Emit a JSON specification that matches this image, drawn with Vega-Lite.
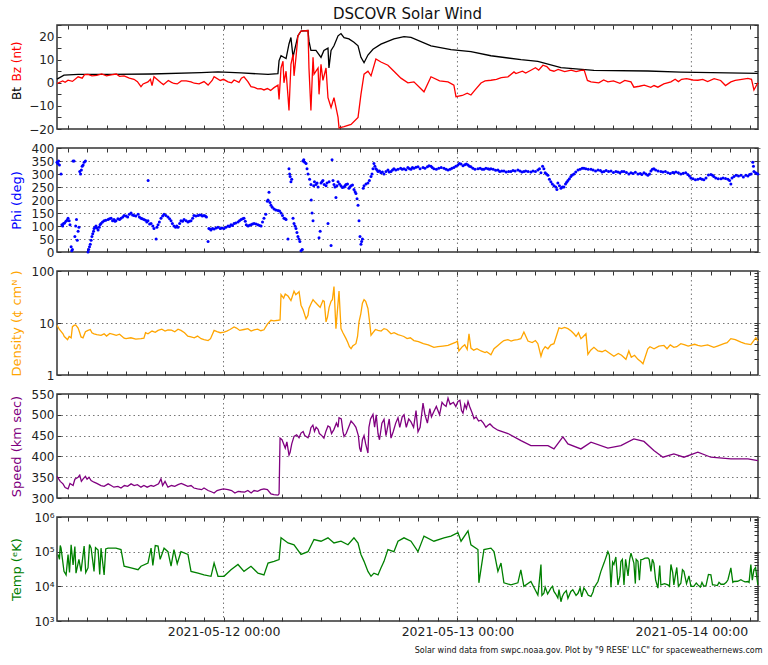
{
  "$schema": "https://vega.github.io/schema/vega-lite/v6.json",
  "padding": {"left": 9, "top": 5, "right": 4, "bottom": 2},
  "spacing": 5,
  "config": {
    "font": "DejaVu Sans",
    "view": {"stroke": "#333333", "strokeWidth": 1.5},
    "axis": {
      "labelFont": "DejaVu Sans", "labelFontSize": 12, "labelColor": "#222222",
      "titleFont": "DejaVu Sans", "titleFontSize": 13, "titleFontWeight": "normal",
      "domain": false, "tickColor": "#333333", "tickSize": 4, "offset": -4, "labelPadding": 3,
      "gridColor": "#666666", "gridDash": [1.5, 3], "gridWidth": 0.9
    },
    "axisY": {"minExtent": 35, "maxExtent": 35, "titlePadding": 3}
  },
  "datasets": {
    "midnight": [{"t":"2021-05-12T00:00"},{"t":"2021-05-13T00:00"},{"t":"2021-05-14T00:00"}],
    "bt": [
      {"t":"2021-05-11T06:55","v":1.6},{"t":"2021-05-11T07:38","v":3.3},{"t":"2021-05-11T09:05","v":3.6},{"t":"2021-05-11T12:28","v":3.6},{"t":"2021-05-11T16:34","v":3.8},{"t":"2021-05-11T21:42","v":4.4},{"t":"2021-05-11T23:26","v":4.7},{"t":"2021-05-12T01:48","v":4.3},{"t":"2021-05-12T04:34","v":3.6},{"t":"2021-05-12T05:35","v":4.0},{"t":"2021-05-12T05:42","v":9.6},{"t":"2021-05-12T05:54","v":11.7},{"t":"2021-05-12T06:25","v":10.5},{"t":"2021-05-12T06:43","v":16.8},{"t":"2021-05-12T06:55","v":19.6},{"t":"2021-05-12T07:08","v":11},{"t":"2021-05-12T07:14","v":13},{"t":"2021-05-12T07:38","v":20.3},{"t":"2021-05-12T07:57","v":22.4},{"t":"2021-05-12T08:40","v":22.6},{"t":"2021-05-12T08:46","v":18},{"t":"2021-05-12T08:58","v":14},{"t":"2021-05-12T09:29","v":14},{"t":"2021-05-12T10:00","v":11},{"t":"2021-05-12T10:18","v":14},{"t":"2021-05-12T10:43","v":15},{"t":"2021-05-12T10:49","v":6.4},{"t":"2021-05-12T11:02","v":14},{"t":"2021-05-12T11:20","v":16},{"t":"2021-05-12T11:45","v":20.3},{"t":"2021-05-12T12:03","v":21.3},{"t":"2021-05-12T12:22","v":19.5},{"t":"2021-05-12T12:52","v":19},{"t":"2021-05-12T13:23","v":17.5},{"t":"2021-05-12T13:48","v":16},{"t":"2021-05-12T14:06","v":11},{"t":"2021-05-12T14:25","v":8.7},{"t":"2021-05-12T14:49","v":12},{"t":"2021-05-12T15:20","v":14.5},{"t":"2021-05-12T16:09","v":16.7},{"t":"2021-05-12T17:29","v":19},{"t":"2021-05-12T18:31","v":20},{"t":"2021-05-12T19:14","v":19.6},{"t":"2021-05-12T21:17","v":16},{"t":"2021-05-12T23:20","v":14.3},{"t":"2021-05-13T01:23","v":13.5},{"t":"2021-05-13T03:26","v":11.7},{"t":"2021-05-13T06:31","v":10},{"t":"2021-05-13T08:15","v":9.3},{"t":"2021-05-13T10:37","v":6.6},{"t":"2021-05-13T14:00","v":5.4},{"t":"2021-05-13T19:32","v":5.1},{"t":"2021-05-13T22:55","v":4.6},{"t":"2021-05-14T06:49","v":4.1}
    ],
    "bz": [
      {"t":"2021-05-11T06:55","v":-0.3},{"t":"2021-05-11T07:30","v":0.8},{"t":"2021-05-11T07:45","v":0.2},{"t":"2021-05-11T08:03","v":1.1},{"t":"2021-05-11T08:30","v":0.6},{"t":"2021-05-11T09:05","v":2.6},{"t":"2021-05-11T09:30","v":2.0},{"t":"2021-05-11T09:45","v":3.5},{"t":"2021-05-11T10:06","v":3.6},{"t":"2021-05-11T10:30","v":3.0},{"t":"2021-05-11T11:00","v":3.2},{"t":"2021-05-11T11:30","v":3.8},{"t":"2021-05-11T12:00","v":3.0},{"t":"2021-05-11T12:28","v":3.4},{"t":"2021-05-11T13:00","v":3.8},{"t":"2021-05-11T13:20","v":2.8},{"t":"2021-05-11T13:48","v":3},{"t":"2021-05-11T14:20","v":2.0},{"t":"2021-05-11T14:49","v":1.5},{"t":"2021-05-11T15:10","v":0.5},{"t":"2021-05-11T15:32","v":-1.7},{"t":"2021-05-11T15:45","v":-0.5},{"t":"2021-05-11T16:15","v":0.4},{"t":"2021-05-11T16:30","v":1.5},{"t":"2021-05-11T16:40","v":-1.2},{"t":"2021-05-11T16:52","v":2.6},{"t":"2021-05-11T17:10","v":1.5},{"t":"2021-05-11T17:35","v":0},{"t":"2021-05-11T17:50","v":-0.8},{"t":"2021-05-11T18:20","v":1.0},{"t":"2021-05-11T18:40","v":0.2},{"t":"2021-05-11T18:55","v":-0.3},{"t":"2021-05-11T19:15","v":-0.5},{"t":"2021-05-11T19:40","v":0.8},{"t":"2021-05-11T20:10","v":0.8},{"t":"2021-05-11T20:40","v":0.4},{"t":"2021-05-11T21:00","v":-0.2},{"t":"2021-05-11T21:30","v":-0.5},{"t":"2021-05-11T22:00","v":0.5},{"t":"2021-05-11T22:25","v":-1},{"t":"2021-05-11T22:50","v":1.0},{"t":"2021-05-11T23:02","v":2.6},{"t":"2021-05-11T23:40","v":1.0},{"t":"2021-05-12T00:00","v":1.5},{"t":"2021-05-12T00:28","v":0.4},{"t":"2021-05-12T00:50","v":0.0},{"t":"2021-05-12T01:05","v":1.2},{"t":"2021-05-12T01:35","v":0.2},{"t":"2021-05-12T01:50","v":2.0},{"t":"2021-05-12T02:06","v":2.6},{"t":"2021-05-12T02:30","v":0.5},{"t":"2021-05-12T02:49","v":-1.7},{"t":"2021-05-12T03:10","v":-2.0},{"t":"2021-05-12T03:30","v":-2.6},{"t":"2021-05-12T03:50","v":-2.5},{"t":"2021-05-12T04:09","v":-3.1},{"t":"2021-05-12T04:30","v":-2.5},{"t":"2021-05-12T04:50","v":-3.3},{"t":"2021-05-12T05:11","v":-2.1},{"t":"2021-05-12T05:35","v":-1},{"t":"2021-05-12T05:42","v":-7.2},{"t":"2021-05-12T05:54","v":6.4},{"t":"2021-05-12T06:06","v":9.3},{"t":"2021-05-12T06:12","v":0},{"t":"2021-05-12T06:25","v":5},{"t":"2021-05-12T06:37","v":-6},{"t":"2021-05-12T06:43","v":-12},{"t":"2021-05-12T06:55","v":8},{"t":"2021-05-12T07:08","v":12.3},{"t":"2021-05-12T07:14","v":3},{"t":"2021-05-12T07:26","v":11},{"t":"2021-05-12T07:38","v":20.3},{"t":"2021-05-12T07:57","v":22.4},{"t":"2021-05-12T08:40","v":22.6},{"t":"2021-05-12T08:46","v":6.4},{"t":"2021-05-12T08:58","v":-12},{"t":"2021-05-12T09:11","v":11},{"t":"2021-05-12T09:17","v":3.7},{"t":"2021-05-12T09:42","v":6.4},{"t":"2021-05-12T09:48","v":-5},{"t":"2021-05-12T10:00","v":8},{"t":"2021-05-12T10:12","v":1},{"t":"2021-05-12T10:31","v":6.4},{"t":"2021-05-12T10:43","v":-6.4},{"t":"2021-05-12T11:02","v":-10.7},{"t":"2021-05-12T11:20","v":-6.4},{"t":"2021-05-12T11:45","v":-15},{"t":"2021-05-12T11:51","v":-19.5},{"t":"2021-05-12T12:22","v":-19},{"t":"2021-05-12T13:05","v":-18},{"t":"2021-05-12T13:48","v":-15},{"t":"2021-05-12T14:06","v":-5},{"t":"2021-05-12T14:25","v":3.7},{"t":"2021-05-12T14:49","v":5},{"t":"2021-05-12T15:08","v":3},{"t":"2021-05-12T15:38","v":10.3},{"t":"2021-05-12T16:09","v":9},{"t":"2021-05-12T16:52","v":7.6},{"t":"2021-05-12T17:29","v":5},{"t":"2021-05-12T18:12","v":2},{"t":"2021-05-12T18:55","v":0},{"t":"2021-05-12T19:32","v":0.4},{"t":"2021-05-12T20:34","v":-3.9},{"t":"2021-05-12T21:17","v":2.6},{"t":"2021-05-12T22:10","v":0.8},{"t":"2021-05-12T23:02","v":0.4},{"t":"2021-05-12T23:38","v":-1},{"t":"2021-05-12T23:51","v":-6},{"t":"2021-05-13T00:30","v":-5.5},{"t":"2021-05-13T01:00","v":-4.5},{"t":"2021-05-13T01:23","v":-5.3},{"t":"2021-05-13T01:50","v":-3.0},{"t":"2021-05-13T02:25","v":-0.1},{"t":"2021-05-13T02:50","v":0.8},{"t":"2021-05-13T03:26","v":1.1},{"t":"2021-05-13T04:00","v":1.5},{"t":"2021-05-13T04:30","v":2.2},{"t":"2021-05-13T05:11","v":2.6},{"t":"2021-05-13T05:48","v":4.7},{"t":"2021-05-13T06:00","v":4.0},{"t":"2021-05-13T06:40","v":5.0},{"t":"2021-05-13T07:00","v":4.2},{"t":"2021-05-13T07:32","v":5.4},{"t":"2021-05-13T08:00","v":6.5},{"t":"2021-05-13T08:20","v":5.5},{"t":"2021-05-13T08:46","v":7.6},{"t":"2021-05-13T09:10","v":7.0},{"t":"2021-05-13T09:30","v":5.5},{"t":"2021-05-13T09:54","v":5},{"t":"2021-05-13T10:20","v":5.8},{"t":"2021-05-13T11:00","v":4.8},{"t":"2021-05-13T11:40","v":5.5},{"t":"2021-05-13T12:10","v":4.8},{"t":"2021-05-13T12:40","v":5.4},{"t":"2021-05-13T13:00","v":5.5},{"t":"2021-05-13T13:20","v":1.0},{"t":"2021-05-13T13:42","v":0.4},{"t":"2021-05-13T14:30","v":0.0},{"t":"2021-05-13T15:00","v":1.2},{"t":"2021-05-13T15:26","v":0.4},{"t":"2021-05-13T16:00","v":0.8},{"t":"2021-05-13T16:40","v":-0.2},{"t":"2021-05-13T17:10","v":1.0},{"t":"2021-05-13T17:48","v":0.4},{"t":"2021-05-13T18:06","v":-1.9},{"t":"2021-05-13T18:40","v":-1.5},{"t":"2021-05-13T19:10","v":-1.0},{"t":"2021-05-13T19:50","v":-2.0},{"t":"2021-05-13T20:10","v":-1.2},{"t":"2021-05-13T20:34","v":-1.9},{"t":"2021-05-13T21:10","v":-0.5},{"t":"2021-05-13T21:54","v":0.4},{"t":"2021-05-13T22:20","v":1.5},{"t":"2021-05-13T22:40","v":0.5},{"t":"2021-05-13T23:00","v":1.5},{"t":"2021-05-13T23:30","v":1.8},{"t":"2021-05-14T00:10","v":1.2},{"t":"2021-05-14T00:40","v":1.1},{"t":"2021-05-14T01:10","v":1.5},{"t":"2021-05-14T01:40","v":0.5},{"t":"2021-05-14T02:20","v":1.8},{"t":"2021-05-14T03:00","v":1.0},{"t":"2021-05-14T03:30","v":-1.2},{"t":"2021-05-14T04:03","v":0.4},{"t":"2021-05-14T04:30","v":1.0},{"t":"2021-05-14T05:10","v":1.5},{"t":"2021-05-14T05:48","v":1.9},{"t":"2021-05-14T06:10","v":1.5},{"t":"2021-05-14T06:25","v":-3.1},{"t":"2021-05-14T06:49","v":0}
    ],
    "phi": [
      {"t":"2021-05-11T06:55","v":345},{"t":"2021-05-11T07:00","v":340},{"t":"2021-05-11T07:05","v":350},{"t":"2021-05-11T07:10","v":335},{"t":"2021-05-11T07:20","v":300},{"t":"2021-05-11T07:25","v":105},{"t":"2021-05-11T07:30","v":100},{"t":"2021-05-11T07:35","v":110},{"t":"2021-05-11T07:42","v":112},{"t":"2021-05-11T07:50","v":118},{"t":"2021-05-11T07:57","v":122},{"t":"2021-05-11T08:03","v":130},{"t":"2021-05-11T08:10","v":120},{"t":"2021-05-11T08:15","v":105},{"t":"2021-05-11T08:22","v":20},{"t":"2021-05-11T08:26","v":5},{"t":"2021-05-11T08:30","v":10},{"t":"2021-05-11T08:34","v":350},{"t":"2021-05-11T08:40","v":350},{"t":"2021-05-11T08:45","v":60},{"t":"2021-05-11T08:50","v":100},{"t":"2021-05-11T08:55","v":125},{"t":"2021-05-11T09:00","v":45},{"t":"2021-05-11T09:05","v":80},{"t":"2021-05-11T09:10","v":95},{"t":"2021-05-11T09:15","v":310},{"t":"2021-05-11T09:20","v":300},{"t":"2021-05-11T09:25","v":315},{"t":"2021-05-11T09:30","v":330},{"t":"2021-05-11T09:36","v":335},{"t":"2021-05-11T09:42","v":345},{"t":"2021-05-11T09:50","v":350},{"t":"2021-05-11T10:06","v":0},{"t":"2021-05-11T10:10","v":10},{"t":"2021-05-11T10:15","v":20},{"t":"2021-05-11T10:20","v":30},{"t":"2021-05-11T10:25","v":45},{"t":"2021-05-11T10:30","v":60},{"t":"2021-05-11T10:35","v":70},{"t":"2021-05-11T10:40","v":80},{"t":"2021-05-11T10:43","v":90},{"t":"2021-05-11T10:50","v":95},{"t":"2021-05-11T10:55","v":100},{"t":"2021-05-11T11:00","v":92},{"t":"2021-05-11T11:08","v":85},{"t":"2021-05-11T11:15","v":95},{"t":"2021-05-11T11:20","v":105},{"t":"2021-05-11T11:26","v":110},{"t":"2021-05-11T11:35","v":115},{"t":"2021-05-11T11:45","v":120},{"t":"2021-05-11T11:55","v":122},{"t":"2021-05-11T12:09","v":125},{"t":"2021-05-11T12:18","v":128},{"t":"2021-05-11T12:28","v":130},{"t":"2021-05-11T12:37","v":120},{"t":"2021-05-11T12:46","v":125},{"t":"2021-05-11T12:52","v":118},{"t":"2021-05-11T12:58","v":120},{"t":"2021-05-11T13:10","v":128},{"t":"2021-05-11T13:20","v":125},{"t":"2021-05-11T13:29","v":130},{"t":"2021-05-11T13:40","v":135},{"t":"2021-05-11T13:48","v":140},{"t":"2021-05-11T14:00","v":138},{"t":"2021-05-11T14:10","v":135},{"t":"2021-05-11T14:20","v":145},{"t":"2021-05-11T14:31","v":150},{"t":"2021-05-11T14:40","v":142},{"t":"2021-05-11T14:49","v":140},{"t":"2021-05-11T15:00","v":138},{"t":"2021-05-11T15:14","v":145},{"t":"2021-05-11T15:22","v":135},{"t":"2021-05-11T15:32","v":130},{"t":"2021-05-11T15:40","v":128},{"t":"2021-05-11T15:50","v":125},{"t":"2021-05-11T16:00","v":122},{"t":"2021-05-11T16:08","v":115},{"t":"2021-05-11T16:15","v":120},{"t":"2021-05-11T16:16","v":275},{"t":"2021-05-11T16:25","v":108},{"t":"2021-05-11T16:34","v":110},{"t":"2021-05-11T16:45","v":100},{"t":"2021-05-11T16:52","v":90},{"t":"2021-05-11T17:05","v":50},{"t":"2021-05-11T17:10","v":95},{"t":"2021-05-11T17:17","v":105},{"t":"2021-05-11T17:25","v":115},{"t":"2021-05-11T17:35","v":130},{"t":"2021-05-11T17:45","v":138},{"t":"2021-05-11T17:54","v":145},{"t":"2021-05-11T18:05","v":140},{"t":"2021-05-11T18:18","v":135},{"t":"2021-05-11T18:28","v":128},{"t":"2021-05-11T18:37","v":120},{"t":"2021-05-11T18:45","v":110},{"t":"2021-05-11T18:55","v":100},{"t":"2021-05-11T19:05","v":95},{"t":"2021-05-11T19:12","v":100},{"t":"2021-05-11T19:20","v":95},{"t":"2021-05-11T19:30","v":110},{"t":"2021-05-11T19:38","v":120},{"t":"2021-05-11T19:48","v":118},{"t":"2021-05-11T19:57","v":125},{"t":"2021-05-11T20:10","v":120},{"t":"2021-05-11T20:21","v":115},{"t":"2021-05-11T20:30","v":118},{"t":"2021-05-11T20:40","v":120},{"t":"2021-05-11T20:50","v":130},{"t":"2021-05-11T20:58","v":140},{"t":"2021-05-11T21:10","v":138},{"t":"2021-05-11T21:23","v":140},{"t":"2021-05-11T21:32","v":142},{"t":"2021-05-11T21:42","v":142},{"t":"2021-05-11T21:50","v":138},{"t":"2021-05-11T22:00","v":140},{"t":"2021-05-11T22:08","v":138},{"t":"2021-05-11T22:15","v":135},{"t":"2021-05-11T22:25","v":40},{"t":"2021-05-11T22:30","v":90},{"t":"2021-05-11T22:37","v":88},{"t":"2021-05-11T22:43","v":85},{"t":"2021-05-11T22:52","v":90},{"t":"2021-05-11T23:02","v":88},{"t":"2021-05-11T23:15","v":92},{"t":"2021-05-11T23:26","v":95},{"t":"2021-05-11T23:40","v":90},{"t":"2021-05-11T23:50","v":92},
      {"t":"2021-05-12T00:03","v":90},{"t":"2021-05-12T00:15","v":95},{"t":"2021-05-12T00:28","v":100},{"t":"2021-05-12T00:37","v":98},{"t":"2021-05-12T00:46","v":105},{"t":"2021-05-12T00:55","v":102},{"t":"2021-05-12T01:05","v":110},{"t":"2021-05-12T01:15","v":112},{"t":"2021-05-12T01:29","v":115},{"t":"2021-05-12T01:38","v":120},{"t":"2021-05-12T01:48","v":125},{"t":"2021-05-12T01:58","v":128},{"t":"2021-05-12T02:06","v":130},{"t":"2021-05-12T02:14","v":118},{"t":"2021-05-12T02:20","v":105},{"t":"2021-05-12T02:31","v":100},{"t":"2021-05-12T02:40","v":103},{"t":"2021-05-12T02:49","v":105},{"t":"2021-05-12T02:58","v":108},{"t":"2021-05-12T03:08","v":110},{"t":"2021-05-12T03:20","v":108},{"t":"2021-05-12T03:32","v":105},{"t":"2021-05-12T03:42","v":102},{"t":"2021-05-12T03:51","v":100},{"t":"2021-05-12T04:00","v":115},{"t":"2021-05-12T04:09","v":130},{"t":"2021-05-12T04:20","v":145},{"t":"2021-05-12T04:30","v":195},{"t":"2021-05-12T04:34","v":200},{"t":"2021-05-12T04:40","v":230},{"t":"2021-05-12T04:46","v":190},{"t":"2021-05-12T04:52","v":180},{"t":"2021-05-12T05:00","v":172},{"t":"2021-05-12T05:11","v":165},{"t":"2021-05-12T05:22","v":162},{"t":"2021-05-12T05:35","v":160},{"t":"2021-05-12T05:45","v":158},{"t":"2021-05-12T05:54","v":150},{"t":"2021-05-12T06:03","v":140},{"t":"2021-05-12T06:12","v":130},{"t":"2021-05-12T06:20","v":128},{"t":"2021-05-12T06:25","v":125},{"t":"2021-05-12T06:37","v":50},{"t":"2021-05-12T06:43","v":320},{"t":"2021-05-12T06:47","v":300},{"t":"2021-05-12T06:50","v":290},{"t":"2021-05-12T06:55","v":270},{"t":"2021-05-12T07:00","v":280},{"t":"2021-05-12T07:08","v":130},{"t":"2021-05-12T07:14","v":110},{"t":"2021-05-12T07:20","v":100},{"t":"2021-05-12T07:26","v":90},{"t":"2021-05-12T07:32","v":75},{"t":"2021-05-12T07:38","v":60},{"t":"2021-05-12T07:44","v":50},{"t":"2021-05-12T07:50","v":40},{"t":"2021-05-12T07:57","v":5},{"t":"2021-05-12T08:05","v":10},{"t":"2021-05-12T08:09","v":350},{"t":"2021-05-12T08:14","v":355},{"t":"2021-05-12T08:20","v":345},{"t":"2021-05-12T08:28","v":340},{"t":"2021-05-12T08:34","v":320},{"t":"2021-05-12T08:40","v":300},{"t":"2021-05-12T08:50","v":280},{"t":"2021-05-12T08:58","v":260},{"t":"2021-05-12T09:00","v":200},{"t":"2021-05-12T09:05","v":150},{"t":"2021-05-12T09:11","v":120},{"t":"2021-05-12T09:15","v":255},{"t":"2021-05-12T09:20","v":270},{"t":"2021-05-12T09:29","v":260},{"t":"2021-05-12T09:36","v":265},{"t":"2021-05-12T09:42","v":250},{"t":"2021-05-12T09:48","v":55},{"t":"2021-05-12T09:55","v":80},{"t":"2021-05-12T10:00","v":265},{"t":"2021-05-12T10:06","v":270},{"t":"2021-05-12T10:12","v":275},{"t":"2021-05-12T10:20","v":260},{"t":"2021-05-12T10:31","v":255},{"t":"2021-05-12T10:37","v":265},{"t":"2021-05-12T10:43","v":110},{"t":"2021-05-12T10:50","v":270},{"t":"2021-05-12T11:02","v":25},{"t":"2021-05-12T11:08","v":355},{"t":"2021-05-12T11:14","v":275},{"t":"2021-05-12T11:20","v":260},{"t":"2021-05-12T11:26","v":250},{"t":"2021-05-12T11:32","v":210},{"t":"2021-05-12T11:38","v":255},{"t":"2021-05-12T11:45","v":270},{"t":"2021-05-12T11:54","v":262},{"t":"2021-05-12T12:03","v":255},{"t":"2021-05-12T12:12","v":248},{"t":"2021-05-12T12:22","v":250},{"t":"2021-05-12T12:28","v":255},{"t":"2021-05-12T12:34","v":260},{"t":"2021-05-12T12:43","v":262},{"t":"2021-05-12T12:52","v":245},{"t":"2021-05-12T12:58","v":250},{"t":"2021-05-12T13:05","v":255},{"t":"2021-05-12T13:14","v":258},{"t":"2021-05-12T13:23","v":240},{"t":"2021-05-12T13:30","v":232},{"t":"2021-05-12T13:35","v":225},{"t":"2021-05-12T13:42","v":205},{"t":"2021-05-12T13:48","v":180},{"t":"2021-05-12T13:54","v":120},{"t":"2021-05-12T14:00","v":60},{"t":"2021-05-12T14:06","v":30},{"t":"2021-05-12T14:10","v":40},{"t":"2021-05-12T14:15","v":50},{"t":"2021-05-12T14:20","v":245},{"t":"2021-05-12T14:25","v":255},{"t":"2021-05-12T14:37","v":262},{"t":"2021-05-12T14:49","v":265},{"t":"2021-05-12T14:58","v":275},{"t":"2021-05-12T15:08","v":290},{"t":"2021-05-12T15:14","v":300},{"t":"2021-05-12T15:20","v":320},{"t":"2021-05-12T15:26","v":340},{"t":"2021-05-12T15:32","v":330},{"t":"2021-05-12T15:38","v":320},{"t":"2021-05-12T15:45","v":315},{"t":"2021-05-12T15:51","v":310},{"t":"2021-05-12T16:00","v":312},{"t":"2021-05-12T16:09","v":305},{"t":"2021-05-12T16:18","v":308},{"t":"2021-05-12T16:28","v":300},{"t":"2021-05-12T16:40","v":310},{"t":"2021-05-12T16:52","v":315},{"t":"2021-05-12T17:00","v":308},{"t":"2021-05-12T17:11","v":310},{"t":"2021-05-12T17:20","v":315},{"t":"2021-05-12T17:29","v":320},{"t":"2021-05-12T17:40","v":315},{"t":"2021-05-12T17:54","v":318},{"t":"2021-05-12T18:10","v":322},{"t":"2021-05-12T18:20","v":318},{"t":"2021-05-12T18:31","v":320},{"t":"2021-05-12T18:43","v":316},{"t":"2021-05-12T18:55","v":325},{"t":"2021-05-12T19:05","v":320},{"t":"2021-05-12T19:14","v":318},{"t":"2021-05-12T19:23","v":325},{"t":"2021-05-12T19:32","v":322},{"t":"2021-05-12T19:45","v":326},{"t":"2021-05-12T19:57","v":328},{"t":"2021-05-12T20:10","v":320},{"t":"2021-05-12T20:28","v":325},{"t":"2021-05-12T20:40","v":322},{"t":"2021-05-12T20:55","v":328},{"t":"2021-05-12T21:05","v":332},{"t":"2021-05-12T21:17","v":330},{"t":"2021-05-12T21:25","v":325},{"t":"2021-05-12T21:35","v":320},{"t":"2021-05-12T21:50","v":318},{"t":"2021-05-12T22:05","v":322},{"t":"2021-05-12T22:20","v":325},{"t":"2021-05-12T22:37","v":322},{"t":"2021-05-12T22:50","v":318},{"t":"2021-05-12T23:02","v":315},{"t":"2021-05-12T23:15","v":318},{"t":"2021-05-12T23:26","v":322},{"t":"2021-05-12T23:38","v":325},{"t":"2021-05-12T23:50","v":330},
      {"t":"2021-05-13T00:03","v":335},{"t":"2021-05-13T00:12","v":340},{"t":"2021-05-13T00:22","v":338},{"t":"2021-05-13T00:34","v":332},{"t":"2021-05-13T00:45","v":336},{"t":"2021-05-13T00:55","v":338},{"t":"2021-05-13T01:05","v":335},{"t":"2021-05-13T01:14","v":330},{"t":"2021-05-13T01:23","v":328},{"t":"2021-05-13T01:35","v":322},{"t":"2021-05-13T01:48","v":318},{"t":"2021-05-13T02:06","v":320},{"t":"2021-05-13T02:20","v":322},{"t":"2021-05-13T02:32","v":318},{"t":"2021-05-13T02:43","v":318},{"t":"2021-05-13T02:55","v":322},{"t":"2021-05-13T03:08","v":320},{"t":"2021-05-13T03:17","v":318},{"t":"2021-05-13T03:26","v":320},{"t":"2021-05-13T03:40","v":318},{"t":"2021-05-13T03:55","v":314},{"t":"2021-05-13T04:09","v":315},{"t":"2021-05-13T04:20","v":310},{"t":"2021-05-13T04:33","v":312},{"t":"2021-05-13T04:46","v":312},{"t":"2021-05-13T05:00","v":308},{"t":"2021-05-13T05:15","v":310},{"t":"2021-05-13T05:29","v":310},{"t":"2021-05-13T05:42","v":313},{"t":"2021-05-13T05:55","v":312},{"t":"2021-05-13T06:12","v":315},{"t":"2021-05-13T06:25","v":312},{"t":"2021-05-13T06:37","v":308},{"t":"2021-05-13T06:49","v":310},{"t":"2021-05-13T07:00","v":312},{"t":"2021-05-13T07:15","v":310},{"t":"2021-05-13T07:32","v":308},{"t":"2021-05-13T07:45","v":312},{"t":"2021-05-13T08:00","v":310},{"t":"2021-05-13T08:15","v":315},{"t":"2021-05-13T08:25","v":320},{"t":"2021-05-13T08:34","v":305},{"t":"2021-05-13T08:44","v":330},{"t":"2021-05-13T08:52","v":320},{"t":"2021-05-13T09:00","v":305},{"t":"2021-05-13T09:08","v":300},{"t":"2021-05-13T09:17","v":295},{"t":"2021-05-13T09:26","v":280},{"t":"2021-05-13T09:35","v":270},{"t":"2021-05-13T09:44","v":262},{"t":"2021-05-13T09:54","v":255},{"t":"2021-05-13T10:05","v":250},{"t":"2021-05-13T10:12","v":240},{"t":"2021-05-13T10:18","v":265},{"t":"2021-05-13T10:28","v":255},{"t":"2021-05-13T10:37","v":245},{"t":"2021-05-13T10:46","v":250},{"t":"2021-05-13T10:55","v":250},{"t":"2021-05-13T11:05","v":262},{"t":"2021-05-13T11:12","v":268},{"t":"2021-05-13T11:20","v":275},{"t":"2021-05-13T11:29","v":282},{"t":"2021-05-13T11:38","v":290},{"t":"2021-05-13T11:47","v":296},{"t":"2021-05-13T11:57","v":300},{"t":"2021-05-13T12:08","v":308},{"t":"2021-05-13T12:22","v":315},{"t":"2021-05-13T12:35","v":318},{"t":"2021-05-13T12:48","v":322},{"t":"2021-05-13T12:58","v":322},{"t":"2021-05-13T13:10","v":320},{"t":"2021-05-13T13:25","v":318},{"t":"2021-05-13T13:42","v":318},{"t":"2021-05-13T13:55","v":315},{"t":"2021-05-13T14:10","v":312},{"t":"2021-05-13T14:25","v":315},{"t":"2021-05-13T14:40","v":313},{"t":"2021-05-13T14:50","v":308},{"t":"2021-05-13T15:02","v":310},{"t":"2021-05-13T15:15","v":313},{"t":"2021-05-13T15:30","v":310},{"t":"2021-05-13T15:45","v":312},{"t":"2021-05-13T16:00","v":306},{"t":"2021-05-13T16:15","v":310},{"t":"2021-05-13T16:28","v":308},{"t":"2021-05-13T16:40","v":305},{"t":"2021-05-13T16:52","v":310},{"t":"2021-05-13T17:05","v":310},{"t":"2021-05-13T17:20","v":306},{"t":"2021-05-13T17:35","v":300},{"t":"2021-05-13T17:48","v":305},{"t":"2021-05-13T18:00","v":302},{"t":"2021-05-13T18:15","v":307},{"t":"2021-05-13T18:31","v":300},{"t":"2021-05-13T18:45","v":302},{"t":"2021-05-13T18:55","v":298},{"t":"2021-05-13T19:08","v":305},{"t":"2021-05-13T19:20","v":300},{"t":"2021-05-13T19:32","v":295},{"t":"2021-05-13T19:42","v":300},{"t":"2021-05-13T19:51","v":312},{"t":"2021-05-13T20:00","v":318},{"t":"2021-05-13T20:09","v":320},{"t":"2021-05-13T20:20","v":315},{"t":"2021-05-13T20:35","v":312},{"t":"2021-05-13T20:52","v":310},{"t":"2021-05-13T21:05","v":308},{"t":"2021-05-13T21:20","v":310},{"t":"2021-05-13T21:35","v":305},{"t":"2021-05-13T21:50","v":302},{"t":"2021-05-13T22:05","v":306},{"t":"2021-05-13T22:12","v":305},{"t":"2021-05-13T22:25","v":308},{"t":"2021-05-13T22:40","v":305},{"t":"2021-05-13T22:55","v":300},{"t":"2021-05-13T23:10","v":303},{"t":"2021-05-13T23:25","v":305},{"t":"2021-05-13T23:38","v":298},{"t":"2021-05-13T23:48","v":292},{"t":"2021-05-13T23:57","v":285},
      {"t":"2021-05-14T00:10","v":282},{"t":"2021-05-14T00:25","v":278},{"t":"2021-05-14T00:40","v":280},{"t":"2021-05-14T00:55","v":283},{"t":"2021-05-14T01:05","v":280},{"t":"2021-05-14T01:17","v":278},{"t":"2021-05-14T01:30","v":285},{"t":"2021-05-14T01:45","v":296},{"t":"2021-05-14T02:00","v":298},{"t":"2021-05-14T02:10","v":295},{"t":"2021-05-14T02:18","v":290},{"t":"2021-05-14T02:30","v":285},{"t":"2021-05-14T02:45","v":282},{"t":"2021-05-14T03:02","v":282},{"t":"2021-05-14T03:15","v":285},{"t":"2021-05-14T03:30","v":283},{"t":"2021-05-14T03:45","v":280},{"t":"2021-05-14T03:55","v":275},{"t":"2021-05-14T04:03","v":262},{"t":"2021-05-14T04:10","v":285},{"t":"2021-05-14T04:22","v":290},{"t":"2021-05-14T04:35","v":295},{"t":"2021-05-14T04:50","v":292},{"t":"2021-05-14T05:05","v":295},{"t":"2021-05-14T05:20","v":288},{"t":"2021-05-14T05:35","v":295},{"t":"2021-05-14T05:48","v":292},{"t":"2021-05-14T05:58","v":298},{"t":"2021-05-14T06:08","v":300},{"t":"2021-05-14T06:18","v":345},{"t":"2021-05-14T06:22","v":330},{"t":"2021-05-14T06:25","v":310},{"t":"2021-05-14T06:35","v":305},{"t":"2021-05-14T06:42","v":302},{"t":"2021-05-14T06:49","v":300}
    ],
    "dens": [
      {"t":"2021-05-11T06:55","v":9},{"t":"2021-05-11T07:10","v":7.5},{"t":"2021-05-11T07:32","v":6.2},{"t":"2021-05-11T07:40","v":5.5},{"t":"2021-05-11T07:51","v":5.1},{"t":"2021-05-11T08:00","v":4.8},{"t":"2021-05-11T08:10","v":5.5},{"t":"2021-05-11T08:22","v":5.2},{"t":"2021-05-11T08:30","v":8.5},{"t":"2021-05-11T08:40","v":9},{"t":"2021-05-11T08:50","v":9.2},{"t":"2021-05-11T09:05","v":8},{"t":"2021-05-11T09:15","v":6.5},{"t":"2021-05-11T09:23","v":5.4},{"t":"2021-05-11T09:35","v":5.2},{"t":"2021-05-11T09:50","v":6.8},{"t":"2021-05-11T10:06","v":7.2},{"t":"2021-05-11T10:20","v":7.5},{"t":"2021-05-11T10:30","v":6.5},{"t":"2021-05-11T10:43","v":6.2},{"t":"2021-05-11T11:00","v":6.0},{"t":"2021-05-11T11:26","v":5.8},{"t":"2021-05-11T11:45","v":6.2},{"t":"2021-05-11T12:00","v":5.6},{"t":"2021-05-11T12:20","v":6.3},{"t":"2021-05-11T12:46","v":6},{"t":"2021-05-11T13:00","v":5.8},{"t":"2021-05-11T13:20","v":6.1},{"t":"2021-05-11T13:48","v":5.1},{"t":"2021-05-11T14:00","v":5.0},{"t":"2021-05-11T14:30","v":5.2},{"t":"2021-05-11T15:00","v":4.9},{"t":"2021-05-11T15:32","v":5},{"t":"2021-05-11T15:50","v":5.1},{"t":"2021-05-11T16:00","v":6.5},{"t":"2021-05-11T16:15","v":6.2},{"t":"2021-05-11T16:40","v":7.0},{"t":"2021-05-11T17:00","v":6.6},{"t":"2021-05-11T17:17","v":7.2},{"t":"2021-05-11T17:40","v":7.6},{"t":"2021-05-11T18:00","v":7.0},{"t":"2021-05-11T18:18","v":7.4},{"t":"2021-05-11T18:40","v":7.3},{"t":"2021-05-11T19:00","v":6.8},{"t":"2021-05-11T19:20","v":7.6},{"t":"2021-05-11T19:38","v":7.2},{"t":"2021-05-11T20:00","v":6.5},{"t":"2021-05-11T20:20","v":5.6},{"t":"2021-05-11T20:40","v":5.4},{"t":"2021-05-11T21:00","v":5.2},{"t":"2021-05-11T21:20","v":5.6},{"t":"2021-05-11T21:42","v":5},{"t":"2021-05-11T22:00","v":4.8},{"t":"2021-05-11T22:25","v":4.6},{"t":"2021-05-11T22:40","v":5.0},{"t":"2021-05-11T23:02","v":7.2},{"t":"2021-05-11T23:20","v":6.8},{"t":"2021-05-11T23:40","v":6.5},{"t":"2021-05-12T00:03","v":6.7},{"t":"2021-05-12T00:20","v":7.0},{"t":"2021-05-12T00:40","v":7.5},{"t":"2021-05-12T01:05","v":8.4},{"t":"2021-05-12T01:20","v":8.0},{"t":"2021-05-12T01:40","v":7.2},{"t":"2021-05-12T02:06","v":7.5},{"t":"2021-05-12T02:30","v":7.8},{"t":"2021-05-12T02:50","v":7.0},{"t":"2021-05-12T03:08","v":7.4},{"t":"2021-05-12T03:30","v":7.6},{"t":"2021-05-12T03:50","v":7.1},{"t":"2021-05-12T04:09","v":7.4},{"t":"2021-05-12T04:30","v":9.5},{"t":"2021-05-12T04:52","v":11.3},{"t":"2021-05-12T05:10","v":11.0},{"t":"2021-05-12T05:35","v":11.3},{"t":"2021-05-12T05:48","v":11.5},{"t":"2021-05-12T05:54","v":35},{"t":"2021-05-12T06:10","v":30},{"t":"2021-05-12T06:20","v":36},{"t":"2021-05-12T06:37","v":33},{"t":"2021-05-12T06:55","v":27},{"t":"2021-05-12T07:00","v":30},{"t":"2021-05-12T07:14","v":41},{"t":"2021-05-12T07:25","v":35},{"t":"2021-05-12T07:38","v":38},{"t":"2021-05-12T07:45","v":40},{"t":"2021-05-12T07:57","v":22},{"t":"2021-05-12T08:10","v":18},{"t":"2021-05-12T08:28","v":12},{"t":"2021-05-12T08:40","v":14},{"t":"2021-05-12T08:46","v":19},{"t":"2021-05-12T09:00","v":24},{"t":"2021-05-12T09:11","v":28},{"t":"2021-05-12T09:25","v":25},{"t":"2021-05-12T09:42","v":22},{"t":"2021-05-12T09:55","v":20},{"t":"2021-05-12T10:12","v":27},{"t":"2021-05-12T10:20","v":26},{"t":"2021-05-12T10:31","v":10.5},{"t":"2021-05-12T10:40","v":13},{"t":"2021-05-12T10:50","v":20},{"t":"2021-05-12T11:02","v":26},{"t":"2021-05-12T11:10","v":28},{"t":"2021-05-12T11:20","v":50},{"t":"2021-05-12T11:32","v":7.8},{"t":"2021-05-12T11:51","v":41},{"t":"2021-05-12T12:03","v":7.8},{"t":"2021-05-12T12:15","v":6.5},{"t":"2021-05-12T12:34","v":5},{"t":"2021-05-12T12:45","v":4.2},{"t":"2021-05-12T12:55","v":3.5},{"t":"2021-05-12T13:05","v":3.2},{"t":"2021-05-12T13:15","v":3.6},{"t":"2021-05-12T13:35","v":4},{"t":"2021-05-12T13:45","v":5.5},{"t":"2021-05-12T13:54","v":10.5},{"t":"2021-05-12T14:05","v":15},{"t":"2021-05-12T14:15","v":24},{"t":"2021-05-12T14:25","v":28},{"t":"2021-05-12T14:35","v":26},{"t":"2021-05-12T14:49","v":19},{"t":"2021-05-12T15:00","v":10},{"t":"2021-05-12T15:08","v":5.8},{"t":"2021-05-12T15:20","v":6.5},{"t":"2021-05-12T15:35","v":7.5},{"t":"2021-05-12T15:51","v":7.2},{"t":"2021-05-12T16:10","v":7.0},{"t":"2021-05-12T16:28","v":7.8},{"t":"2021-05-12T16:45","v":7.5},{"t":"2021-05-12T17:11","v":6.2},{"t":"2021-05-12T17:30","v":6.5},{"t":"2021-05-12T17:54","v":6},{"t":"2021-05-12T18:12","v":5.75},{"t":"2021-05-12T18:30","v":5.5},{"t":"2021-05-12T18:50","v":5.0},{"t":"2021-05-12T19:10","v":5.2},{"t":"2021-05-12T19:32","v":4.6},{"t":"2021-05-12T20:00","v":4.4},{"t":"2021-05-12T20:30","v":4.0},{"t":"2021-05-12T21:00","v":3.8},{"t":"2021-05-12T21:35","v":3.4},{"t":"2021-05-12T22:00","v":3.5},{"t":"2021-05-12T22:30","v":3.6},{"t":"2021-05-12T23:02","v":3.7},{"t":"2021-05-12T23:51","v":4.3},{"t":"2021-05-13T00:00","v":4.5},{"t":"2021-05-13T00:09","v":2.9},{"t":"2021-05-13T00:30","v":3.5},{"t":"2021-05-13T00:45","v":3.8},{"t":"2021-05-13T01:00","v":3.1},{"t":"2021-05-13T01:11","v":6.2},{"t":"2021-05-13T01:23","v":3.3},{"t":"2021-05-13T01:40","v":3.0},{"t":"2021-05-13T02:00","v":3.2},{"t":"2021-05-13T02:25","v":2.9},{"t":"2021-05-13T02:50","v":2.7},{"t":"2021-05-13T03:00","v":2.8},{"t":"2021-05-13T03:26","v":2.45},{"t":"2021-05-13T03:45","v":3.2},{"t":"2021-05-13T04:09","v":3.7},{"t":"2021-05-13T04:30","v":4.2},{"t":"2021-05-13T04:46","v":4.6},{"t":"2021-05-13T05:10","v":4.8},{"t":"2021-05-13T05:30","v":4.5},{"t":"2021-05-13T05:48","v":4.7},{"t":"2021-05-13T06:10","v":4.8},{"t":"2021-05-13T06:30","v":5.0},{"t":"2021-05-13T06:49","v":6.7},{"t":"2021-05-13T07:14","v":4.5},{"t":"2021-05-13T07:40","v":4.2},{"t":"2021-05-13T08:00","v":4.6},{"t":"2021-05-13T08:15","v":4},{"t":"2021-05-13T08:34","v":2.3},{"t":"2021-05-13T08:45","v":3.0},{"t":"2021-05-13T09:00","v":3.5},{"t":"2021-05-13T09:17","v":3.2},{"t":"2021-05-13T09:35","v":3.8},{"t":"2021-05-13T09:54","v":4},{"t":"2021-05-13T10:25","v":8.1},{"t":"2021-05-13T10:40","v":7.8},{"t":"2021-05-13T11:00","v":8.2},{"t":"2021-05-13T11:20","v":7.8},{"t":"2021-05-13T11:40","v":7.0},{"t":"2021-05-13T11:57","v":6.2},{"t":"2021-05-13T12:10","v":5.5},{"t":"2021-05-13T12:25","v":6.5},{"t":"2021-05-13T12:40","v":5},{"t":"2021-05-13T12:55","v":5.5},{"t":"2021-05-13T13:11","v":6.2},{"t":"2021-05-13T13:23","v":2.5},{"t":"2021-05-13T13:40","v":3.0},{"t":"2021-05-13T14:00","v":3.4},{"t":"2021-05-13T14:25","v":2.9},{"t":"2021-05-13T14:50","v":2.8},{"t":"2021-05-13T15:10","v":3.0},{"t":"2021-05-13T15:30","v":2.7},{"t":"2021-05-13T16:03","v":2.3},{"t":"2021-05-13T16:30","v":2.6},{"t":"2021-05-13T16:50","v":2.4},{"t":"2021-05-13T17:17","v":2.0},{"t":"2021-05-13T17:35","v":2.9},{"t":"2021-05-13T17:50","v":2.2},{"t":"2021-05-13T18:10","v":2.4},{"t":"2021-05-13T18:31","v":2.0},{"t":"2021-05-13T18:50","v":1.8},{"t":"2021-05-13T19:02","v":1.65},{"t":"2021-05-13T19:32","v":3.2},{"t":"2021-05-13T19:45","v":3.5},{"t":"2021-05-13T20:10","v":3.2},{"t":"2021-05-13T20:40","v":3.6},{"t":"2021-05-13T21:11","v":3.7},{"t":"2021-05-13T21:30","v":3.2},{"t":"2021-05-13T21:50","v":3.8},{"t":"2021-05-13T22:12","v":3.4},{"t":"2021-05-13T22:30","v":3.5},{"t":"2021-05-13T22:55","v":4},{"t":"2021-05-13T23:20","v":3.8},{"t":"2021-05-13T23:40","v":3.6},{"t":"2021-05-14T00:20","v":3.9},{"t":"2021-05-14T00:40","v":3.7},{"t":"2021-05-14T01:00","v":3.6},{"t":"2021-05-14T01:40","v":3.8},{"t":"2021-05-14T02:18","v":3.4},{"t":"2021-05-14T02:40","v":3.6},{"t":"2021-05-14T03:20","v":4.0},{"t":"2021-05-14T03:40","v":4.2},{"t":"2021-05-14T04:03","v":5},{"t":"2021-05-14T04:30","v":4.8},{"t":"2021-05-14T05:05","v":4.3},{"t":"2021-05-14T05:30","v":4.0},{"t":"2021-05-14T06:06","v":3.85},{"t":"2021-05-14T06:37","v":5.2},{"t":"2021-05-14T06:49","v":4.5}
    ],
    "speed": [
      {"t":"2021-05-11T06:55","v":352},{"t":"2021-05-11T07:15","v":340},{"t":"2021-05-11T07:32","v":334},{"t":"2021-05-11T07:45","v":325},{"t":"2021-05-11T08:03","v":322},{"t":"2021-05-11T08:15","v":335},{"t":"2021-05-11T08:34","v":330},{"t":"2021-05-11T08:45","v":345},{"t":"2021-05-11T09:05","v":350},{"t":"2021-05-11T09:15","v":355},{"t":"2021-05-11T09:25","v":340},{"t":"2021-05-11T09:36","v":346},{"t":"2021-05-11T09:50","v":352},{"t":"2021-05-11T10:00","v":345},{"t":"2021-05-11T10:12","v":350},{"t":"2021-05-11T10:25","v":342},{"t":"2021-05-11T10:43","v":338},{"t":"2021-05-11T11:00","v":335},{"t":"2021-05-11T11:26","v":330},{"t":"2021-05-11T11:45","v":328},{"t":"2021-05-11T12:10","v":334},{"t":"2021-05-11T12:28","v":330},{"t":"2021-05-11T12:45","v":326},{"t":"2021-05-11T13:10","v":328},{"t":"2021-05-11T13:29","v":324},{"t":"2021-05-11T13:50","v":330},{"t":"2021-05-11T14:10","v":328},{"t":"2021-05-11T14:31","v":334},{"t":"2021-05-11T14:50","v":330},{"t":"2021-05-11T15:10","v":332},{"t":"2021-05-11T15:32","v":326},{"t":"2021-05-11T15:50","v":330},{"t":"2021-05-11T16:10","v":326},{"t":"2021-05-11T16:34","v":330},{"t":"2021-05-11T16:50","v":328},{"t":"2021-05-11T17:20","v":334},{"t":"2021-05-11T17:35","v":346},{"t":"2021-05-11T17:45","v":330},{"t":"2021-05-11T18:00","v":340},{"t":"2021-05-11T18:18","v":326},{"t":"2021-05-11T18:40","v":330},{"t":"2021-05-11T19:00","v":328},{"t":"2021-05-11T19:20","v":332},{"t":"2021-05-11T19:40","v":335},{"t":"2021-05-11T19:57","v":332},{"t":"2021-05-11T20:20","v":328},{"t":"2021-05-11T20:40","v":330},{"t":"2021-05-11T20:58","v":324},{"t":"2021-05-11T21:20","v":322},{"t":"2021-05-11T21:45","v":320},{"t":"2021-05-11T22:00","v":324},{"t":"2021-05-11T22:25","v":318},{"t":"2021-05-11T22:45","v":315},{"t":"2021-05-11T23:02","v":312},{"t":"2021-05-11T23:20","v":318},{"t":"2021-05-11T23:40","v":320},{"t":"2021-05-12T00:00","v":322},{"t":"2021-05-12T00:28","v":320},{"t":"2021-05-12T00:50","v":318},{"t":"2021-05-12T01:10","v":312},{"t":"2021-05-12T01:30","v":316},{"t":"2021-05-12T01:48","v":315},{"t":"2021-05-12T02:10","v":314},{"t":"2021-05-12T02:30","v":318},{"t":"2021-05-12T02:50","v":312},{"t":"2021-05-12T03:08","v":318},{"t":"2021-05-12T03:30","v":316},{"t":"2021-05-12T03:50","v":320},{"t":"2021-05-12T04:09","v":322},{"t":"2021-05-12T04:30","v":320},{"t":"2021-05-12T04:52","v":310},{"t":"2021-05-12T05:10","v":308},{"t":"2021-05-12T05:35","v":307},{"t":"2021-05-12T05:42","v":310},{"t":"2021-05-12T05:48","v":444},{"t":"2021-05-12T06:00","v":440},{"t":"2021-05-12T06:12","v":428},{"t":"2021-05-12T06:20","v":420},{"t":"2021-05-12T06:30","v":435},{"t":"2021-05-12T06:43","v":403},{"t":"2021-05-12T06:50","v":410},{"t":"2021-05-12T07:00","v":430},{"t":"2021-05-12T07:14","v":448},{"t":"2021-05-12T07:30","v":452},{"t":"2021-05-12T07:45","v":445},{"t":"2021-05-12T07:57","v":456},{"t":"2021-05-12T08:10","v":460},{"t":"2021-05-12T08:20","v":450},{"t":"2021-05-12T08:40","v":445},{"t":"2021-05-12T08:50","v":455},{"t":"2021-05-12T08:58","v":469},{"t":"2021-05-12T09:10","v":475},{"t":"2021-05-12T09:20","v":460},{"t":"2021-05-12T09:30","v":470},{"t":"2021-05-12T09:42","v":465},{"t":"2021-05-12T09:50","v":455},{"t":"2021-05-12T10:05","v":450},{"t":"2021-05-12T10:18","v":444},{"t":"2021-05-12T10:30","v":460},{"t":"2021-05-12T10:43","v":473},{"t":"2021-05-12T10:55","v":470},{"t":"2021-05-12T11:05","v":455},{"t":"2021-05-12T11:20","v":465},{"t":"2021-05-12T11:35","v":480},{"t":"2021-05-12T11:45","v":470},{"t":"2021-05-12T11:51","v":493},{"t":"2021-05-12T12:05","v":490},{"t":"2021-05-12T12:15","v":460},{"t":"2021-05-12T12:22","v":448},{"t":"2021-05-12T12:35","v":455},{"t":"2021-05-12T12:50","v":470},{"t":"2021-05-12T13:05","v":485},{"t":"2021-05-12T13:23","v":477},{"t":"2021-05-12T13:35","v":470},{"t":"2021-05-12T13:50","v":450},{"t":"2021-05-12T13:58","v":420},{"t":"2021-05-12T14:06","v":411},{"t":"2021-05-12T14:15","v":440},{"t":"2021-05-12T14:25","v":450},{"t":"2021-05-12T14:35","v":430},{"t":"2021-05-12T14:49","v":408},{"t":"2021-05-12T14:55","v":470},{"t":"2021-05-12T15:05","v":490},{"t":"2021-05-12T15:20","v":501},{"t":"2021-05-12T15:30","v":470},{"t":"2021-05-12T15:40","v":500},{"t":"2021-05-12T15:51","v":455},{"t":"2021-05-12T16:00","v":440},{"t":"2021-05-12T16:15","v":480},{"t":"2021-05-12T16:28","v":489},{"t":"2021-05-12T16:40","v":450},{"t":"2021-05-12T17:00","v":490},{"t":"2021-05-12T17:11","v":444},{"t":"2021-05-12T17:25","v":460},{"t":"2021-05-12T17:40","v":480},{"t":"2021-05-12T17:54","v":493},{"t":"2021-05-12T18:05","v":470},{"t":"2021-05-12T18:20","v":495},{"t":"2021-05-12T18:31","v":500},{"t":"2021-05-12T18:45","v":470},{"t":"2021-05-12T19:00","v":490},{"t":"2021-05-12T19:14","v":483},{"t":"2021-05-12T19:30","v":470},{"t":"2021-05-12T19:45","v":510},{"t":"2021-05-12T19:57","v":459},{"t":"2021-05-12T20:10","v":470},{"t":"2021-05-12T20:28","v":528},{"t":"2021-05-12T20:40","v":500},{"t":"2021-05-12T20:55","v":480},{"t":"2021-05-12T21:10","v":515},{"t":"2021-05-12T21:20","v":495},{"t":"2021-05-12T21:35","v":508},{"t":"2021-05-12T21:50","v":520},{"t":"2021-05-12T22:10","v":500},{"t":"2021-05-12T22:25","v":530},{"t":"2021-05-12T22:37","v":524},{"t":"2021-05-12T22:50","v":520},{"t":"2021-05-12T23:02","v":540},{"t":"2021-05-12T23:15","v":525},{"t":"2021-05-12T23:35","v":530},{"t":"2021-05-12T23:50","v":520},{"t":"2021-05-13T00:03","v":532},{"t":"2021-05-13T00:15","v":535},{"t":"2021-05-13T00:25","v":510},{"t":"2021-05-13T00:34","v":504},{"t":"2021-05-13T00:45","v":525},{"t":"2021-05-13T00:55","v":515},{"t":"2021-05-13T01:05","v":532},{"t":"2021-05-13T01:15","v":520},{"t":"2021-05-13T01:30","v":505},{"t":"2021-05-13T01:42","v":491},{"t":"2021-05-13T01:55","v":495},{"t":"2021-05-13T02:10","v":485},{"t":"2021-05-13T02:25","v":487},{"t":"2021-05-13T02:40","v":480},{"t":"2021-05-13T02:55","v":470},{"t":"2021-05-13T03:08","v":475},{"t":"2021-05-13T03:20","v":478},{"t":"2021-05-13T03:40","v":470},{"t":"2021-05-13T04:09","v":463},{"t":"2021-05-13T05:11","v":455},{"t":"2021-05-13T06:31","v":438},{"t":"2021-05-13T07:32","v":426},{"t":"2021-05-13T09:17","v":426},{"t":"2021-05-13T09:54","v":418},{"t":"2021-05-13T10:49","v":447},{"t":"2021-05-13T11:20","v":430},{"t":"2021-05-13T12:40","v":418},{"t":"2021-05-13T13:42","v":434},{"t":"2021-05-13T15:26","v":420},{"t":"2021-05-13T16:46","v":426},{"t":"2021-05-13T18:06","v":442},{"t":"2021-05-13T19:08","v":436},{"t":"2021-05-13T20:09","v":414},{"t":"2021-05-13T21:05","v":398},{"t":"2021-05-13T22:12","v":406},{"t":"2021-05-13T23:14","v":398},{"t":"2021-05-14T00:40","v":410},{"t":"2021-05-14T02:00","v":398},{"t":"2021-05-14T04:03","v":394},{"t":"2021-05-14T05:48","v":394},{"t":"2021-05-14T06:49","v":390}
    ],
    "temp": [
      {"t":"2021-05-11T07:02","v":83000},{"t":"2021-05-11T07:10","v":60000},{"t":"2021-05-11T07:15","v":150000},{"t":"2021-05-11T07:20","v":126000},{"t":"2021-05-11T07:38","v":27000},{"t":"2021-05-11T07:51","v":21400},{"t":"2021-05-11T08:03","v":83000},{"t":"2021-05-11T08:12","v":25000},{"t":"2021-05-11T08:22","v":158000},{"t":"2021-05-11T08:34","v":41700},{"t":"2021-05-11T08:45","v":140000},{"t":"2021-05-11T08:52","v":24000},{"t":"2021-05-11T09:10","v":60000},{"t":"2021-05-11T09:23","v":27000},{"t":"2021-05-11T09:42","v":145000},{"t":"2021-05-11T09:52","v":25000},{"t":"2021-05-11T10:06","v":33900},{"t":"2021-05-11T10:15","v":160000},{"t":"2021-05-11T10:25","v":126000},{"t":"2021-05-11T10:43","v":27000},{"t":"2021-05-11T10:52","v":130000},{"t":"2021-05-11T11:08","v":112000},{"t":"2021-05-11T11:18","v":22000},{"t":"2021-05-11T11:26","v":126000},{"t":"2021-05-11T11:45","v":21400},{"t":"2021-05-11T11:55","v":120000},{"t":"2021-05-11T12:09","v":126000},{"t":"2021-05-11T12:58","v":126000},{"t":"2021-05-11T13:29","v":115000},{"t":"2021-05-11T13:48","v":38000},{"t":"2021-05-11T14:31","v":33900},{"t":"2021-05-11T15:14","v":30200},{"t":"2021-05-11T15:32","v":38000},{"t":"2021-05-11T16:15","v":46800},{"t":"2021-05-11T16:34","v":126000},{"t":"2021-05-11T16:45","v":40000},{"t":"2021-05-11T17:00","v":150000},{"t":"2021-05-11T17:17","v":145000},{"t":"2021-05-11T17:30","v":60000},{"t":"2021-05-11T17:54","v":126000},{"t":"2021-05-11T18:18","v":100000},{"t":"2021-05-11T18:37","v":38000},{"t":"2021-05-11T18:55","v":115000},{"t":"2021-05-11T19:15","v":45000},{"t":"2021-05-11T19:38","v":100000},{"t":"2021-05-11T20:21","v":83000},{"t":"2021-05-11T20:40","v":27000},{"t":"2021-05-11T21:23","v":24000},{"t":"2021-05-11T22:00","v":21400},{"t":"2021-05-11T22:43","v":19500},{"t":"2021-05-11T23:02","v":46800},{"t":"2021-05-11T23:26","v":19500},{"t":"2021-05-12T00:03","v":19500},{"t":"2021-05-12T00:46","v":30200},{"t":"2021-05-12T01:29","v":42700},{"t":"2021-05-12T02:06","v":27000},{"t":"2021-05-12T02:49","v":38000},{"t":"2021-05-12T03:32","v":24000},{"t":"2021-05-12T04:09","v":21400},{"t":"2021-05-12T04:34","v":46800},{"t":"2021-05-12T05:11","v":52500},{"t":"2021-05-12T05:42","v":58900},{"t":"2021-05-12T05:54","v":251000},{"t":"2021-05-12T06:37","v":178000},{"t":"2021-05-12T07:14","v":158000},{"t":"2021-05-12T07:57","v":83000},{"t":"2021-05-12T08:40","v":100000},{"t":"2021-05-12T09:17","v":224000},{"t":"2021-05-12T10:00","v":200000},{"t":"2021-05-12T10:43","v":251000},{"t":"2021-05-12T11:20","v":178000},{"t":"2021-05-12T12:03","v":200000},{"t":"2021-05-12T12:46","v":158000},{"t":"2021-05-12T13:23","v":251000},{"t":"2021-05-12T13:48","v":178000},{"t":"2021-05-12T14:06","v":83000},{"t":"2021-05-12T14:25","v":52500},{"t":"2021-05-12T14:49","v":27000},{"t":"2021-05-12T15:08","v":19500},{"t":"2021-05-12T15:26","v":24000},{"t":"2021-05-12T15:51","v":21400},{"t":"2021-05-12T16:09","v":33900},{"t":"2021-05-12T16:28","v":52500},{"t":"2021-05-12T16:52","v":115000},{"t":"2021-05-12T17:29","v":100000},{"t":"2021-05-12T17:54","v":200000},{"t":"2021-05-12T18:31","v":251000},{"t":"2021-05-12T19:14","v":200000},{"t":"2021-05-12T19:57","v":100000},{"t":"2021-05-12T20:34","v":282000},{"t":"2021-05-12T21:35","v":200000},{"t":"2021-05-12T22:37","v":251000},{"t":"2021-05-12T23:20","v":282000},{"t":"2021-05-13T00:03","v":355000},{"t":"2021-05-13T00:22","v":200000},{"t":"2021-05-13T01:05","v":398000},{"t":"2021-05-13T01:23","v":158000},{"t":"2021-05-13T02:06","v":115000},{"t":"2021-05-13T02:12","v":12600},{"t":"2021-05-13T02:43","v":115000},{"t":"2021-05-13T03:26","v":126000},{"t":"2021-05-13T03:45","v":100000},{"t":"2021-05-13T04:09","v":27000},{"t":"2021-05-13T04:28","v":46800},{"t":"2021-05-13T04:46","v":12600},{"t":"2021-05-13T05:29","v":11000},{"t":"2021-05-13T06:12","v":12600},{"t":"2021-05-13T06:30","v":30000},{"t":"2021-05-13T06:49","v":10000},{"t":"2021-05-13T07:32","v":13800},{"t":"2021-05-13T08:15","v":5600},{"t":"2021-05-13T08:20","v":9000},{"t":"2021-05-13T08:34","v":42700},{"t":"2021-05-13T08:40","v":5500},{"t":"2021-05-13T08:52","v":6300},{"t":"2021-05-13T09:00","v":9500},{"t":"2021-05-13T09:15","v":6000},{"t":"2021-05-13T09:35","v":8900},{"t":"2021-05-13T09:45","v":10000},{"t":"2021-05-13T09:54","v":7100},{"t":"2021-05-13T10:05","v":6000},{"t":"2021-05-13T10:18","v":4600},{"t":"2021-05-13T10:25","v":8000},{"t":"2021-05-13T10:37","v":3600},{"t":"2021-05-13T10:45","v":5000},{"t":"2021-05-13T10:55","v":6300},{"t":"2021-05-13T11:10","v":7500},{"t":"2021-05-13T11:20","v":4500},{"t":"2021-05-13T11:38","v":7100},{"t":"2021-05-13T11:50","v":8000},{"t":"2021-05-13T12:10","v":5500},{"t":"2021-05-13T12:22","v":6300},{"t":"2021-05-13T12:35","v":9000},{"t":"2021-05-13T12:45","v":5000},{"t":"2021-05-13T12:58","v":8900},{"t":"2021-05-13T13:10","v":7500},{"t":"2021-05-13T13:25","v":5500},{"t":"2021-05-13T13:42","v":5100},{"t":"2021-05-13T13:55","v":7000},{"t":"2021-05-13T14:00","v":8900},{"t":"2021-05-13T14:25","v":13800},{"t":"2021-05-13T14:43","v":27000},{"t":"2021-05-13T15:02","v":46800},{"t":"2021-05-13T15:10","v":60000},{"t":"2021-05-13T15:26","v":100000},{"t":"2021-05-13T15:35","v":80000},{"t":"2021-05-13T15:45","v":9500},{"t":"2021-05-13T15:55","v":50000},{"t":"2021-05-13T16:03","v":42700},{"t":"2021-05-13T16:15","v":70000},{"t":"2021-05-13T16:28","v":11000},{"t":"2021-05-13T16:40","v":20000},{"t":"2021-05-13T16:46","v":52500},{"t":"2021-05-13T16:55","v":60000},{"t":"2021-05-13T17:05","v":11000},{"t":"2021-05-13T17:15","v":60000},{"t":"2021-05-13T17:30","v":20000},{"t":"2021-05-13T17:40","v":60000},{"t":"2021-05-13T17:48","v":91000},{"t":"2021-05-13T18:06","v":46800},{"t":"2021-05-13T18:15","v":12000},{"t":"2021-05-13T18:20","v":60000},{"t":"2021-05-13T18:31","v":52500},{"t":"2021-05-13T18:40","v":15000},{"t":"2021-05-13T18:49","v":58900},{"t":"2021-05-13T19:00","v":60000},{"t":"2021-05-13T19:15","v":65000},{"t":"2021-05-13T19:32","v":66000},{"t":"2021-05-13T19:40","v":60000},{"t":"2021-05-13T19:51","v":27000},{"t":"2021-05-13T20:00","v":60000},{"t":"2021-05-13T20:09","v":46800},{"t":"2021-05-13T20:20","v":15000},{"t":"2021-05-13T20:34","v":8900},{"t":"2021-05-13T20:45","v":40000},{"t":"2021-05-13T20:52","v":11000},{"t":"2021-05-13T21:15","v":12000},{"t":"2021-05-13T21:35","v":11000},{"t":"2021-05-13T21:45","v":10000},{"t":"2021-05-13T21:54","v":42700},{"t":"2021-05-13T22:05","v":25000},{"t":"2021-05-13T22:12","v":11000},{"t":"2021-05-13T22:30","v":35000},{"t":"2021-05-13T22:40","v":10000},{"t":"2021-05-13T22:55","v":12300},{"t":"2021-05-13T23:05","v":30000},{"t":"2021-05-13T23:14","v":27000},{"t":"2021-05-13T23:30","v":12000},{"t":"2021-05-13T23:45","v":20000},{"t":"2021-05-13T23:57","v":10000},{"t":"2021-05-14T00:15","v":10000},{"t":"2021-05-14T00:30","v":12500},{"t":"2021-05-14T00:40","v":11000},{"t":"2021-05-14T00:55","v":9500},{"t":"2021-05-14T01:05","v":13000},{"t":"2021-05-14T01:17","v":10000},{"t":"2021-05-14T01:30","v":10500},{"t":"2021-05-14T01:45","v":22000},{"t":"2021-05-14T02:00","v":21400},{"t":"2021-05-14T02:10","v":11000},{"t":"2021-05-14T02:18","v":11000},{"t":"2021-05-14T02:40","v":10500},{"t":"2021-05-14T02:50","v":13000},{"t":"2021-05-14T03:02","v":11500},{"t":"2021-05-14T03:20","v":11500},{"t":"2021-05-14T03:35","v":13000},{"t":"2021-05-14T03:45","v":15500},{"t":"2021-05-14T04:03","v":33900},{"t":"2021-05-14T04:15","v":13000},{"t":"2021-05-14T04:22","v":13800},{"t":"2021-05-14T04:45","v":14000},{"t":"2021-05-14T05:05","v":15500},{"t":"2021-05-14T05:15","v":14500},{"t":"2021-05-14T05:30","v":13500},{"t":"2021-05-14T05:48","v":13800},{"t":"2021-05-14T05:55","v":13000},{"t":"2021-05-14T06:06","v":42700},{"t":"2021-05-14T06:15","v":15000},{"t":"2021-05-14T06:25","v":30200},{"t":"2021-05-14T06:35","v":35000},{"t":"2021-05-14T06:49","v":11000}
    ]
  },
  "vconcat": [
    {
      "width": 701, "height": 104,
      "title": {"text": "DSCOVR Solar Wind", "fontSize": 15, "fontWeight": "normal", "font": "DejaVu Sans", "color": "#111111", "anchor": "middle", "frame": "group", "offset": 3},
      "layer": [
        {
          "data": {"name": "midnight"},
          "mark": {"type": "rule", "color": "#666666", "strokeDash": [1.5, 3], "strokeWidth": 0.9},
          "encoding": {"x": {"field": "t", "type": "temporal", "scale": {"domain": [{"year": 2021, "month": "May", "date": 11, "hours": 6, "minutes": 55}, {"year": 2021, "month": "May", "date": 14, "hours": 6, "minutes": 50}]}, "axis": null}}
        },
        {
          "data": {"name": "bt"},
          "mark": {"type": "line", "color": "#000000", "strokeWidth": 1.3},
          "encoding": {
            "x": {"field": "t", "type": "temporal", "axis": {"title": null, "labels": false, "grid": false, "values": [{"year":2021,"month":"May","date":11,"hours":8},{"year":2021,"month":"May","date":11,"hours":10},{"year":2021,"month":"May","date":11,"hours":12},{"year":2021,"month":"May","date":11,"hours":14},{"year":2021,"month":"May","date":11,"hours":16},{"year":2021,"month":"May","date":11,"hours":18},{"year":2021,"month":"May","date":11,"hours":20},{"year":2021,"month":"May","date":11,"hours":22},{"year":2021,"month":"May","date":12,"hours":0},{"year":2021,"month":"May","date":12,"hours":2},{"year":2021,"month":"May","date":12,"hours":4},{"year":2021,"month":"May","date":12,"hours":6},{"year":2021,"month":"May","date":12,"hours":8},{"year":2021,"month":"May","date":12,"hours":10},{"year":2021,"month":"May","date":12,"hours":12},{"year":2021,"month":"May","date":12,"hours":14},{"year":2021,"month":"May","date":12,"hours":16},{"year":2021,"month":"May","date":12,"hours":18},{"year":2021,"month":"May","date":12,"hours":20},{"year":2021,"month":"May","date":12,"hours":22},{"year":2021,"month":"May","date":13,"hours":0},{"year":2021,"month":"May","date":13,"hours":2},{"year":2021,"month":"May","date":13,"hours":4},{"year":2021,"month":"May","date":13,"hours":6},{"year":2021,"month":"May","date":13,"hours":8},{"year":2021,"month":"May","date":13,"hours":10},{"year":2021,"month":"May","date":13,"hours":12},{"year":2021,"month":"May","date":13,"hours":14},{"year":2021,"month":"May","date":13,"hours":16},{"year":2021,"month":"May","date":13,"hours":18},{"year":2021,"month":"May","date":13,"hours":20},{"year":2021,"month":"May","date":13,"hours":22},{"year":2021,"month":"May","date":14,"hours":0},{"year":2021,"month":"May","date":14,"hours":2},{"year":2021,"month":"May","date":14,"hours":4},{"year":2021,"month":"May","date":14,"hours":6}]}},
            "y": {"field": "v", "type": "quantitative", "scale": {"domain": [-20, 25], "nice": false, "zero": false}, "axis": {"orient": "left", "title": "Bt", "titleColor": "#000000", "titleFontSize": 12, "labels": false, "ticks": false, "grid": false, "titleY": 68}}
          }
        },
        {
          "data": {"name": "bz"},
          "mark": {"type": "line", "color": "#ff0000", "strokeWidth": 1.3},
          "encoding": {
            "x": {"field": "t", "type": "temporal", "axis": {"orient": "top", "title": null, "labels": false, "grid": false, "values": [{"year":2021,"month":"May","date":11,"hours":8},{"year":2021,"month":"May","date":11,"hours":10},{"year":2021,"month":"May","date":11,"hours":12},{"year":2021,"month":"May","date":11,"hours":14},{"year":2021,"month":"May","date":11,"hours":16},{"year":2021,"month":"May","date":11,"hours":18},{"year":2021,"month":"May","date":11,"hours":20},{"year":2021,"month":"May","date":11,"hours":22},{"year":2021,"month":"May","date":12,"hours":0},{"year":2021,"month":"May","date":12,"hours":2},{"year":2021,"month":"May","date":12,"hours":4},{"year":2021,"month":"May","date":12,"hours":6},{"year":2021,"month":"May","date":12,"hours":8},{"year":2021,"month":"May","date":12,"hours":10},{"year":2021,"month":"May","date":12,"hours":12},{"year":2021,"month":"May","date":12,"hours":14},{"year":2021,"month":"May","date":12,"hours":16},{"year":2021,"month":"May","date":12,"hours":18},{"year":2021,"month":"May","date":12,"hours":20},{"year":2021,"month":"May","date":12,"hours":22},{"year":2021,"month":"May","date":13,"hours":0},{"year":2021,"month":"May","date":13,"hours":2},{"year":2021,"month":"May","date":13,"hours":4},{"year":2021,"month":"May","date":13,"hours":6},{"year":2021,"month":"May","date":13,"hours":8},{"year":2021,"month":"May","date":13,"hours":10},{"year":2021,"month":"May","date":13,"hours":12},{"year":2021,"month":"May","date":13,"hours":14},{"year":2021,"month":"May","date":13,"hours":16},{"year":2021,"month":"May","date":13,"hours":18},{"year":2021,"month":"May","date":13,"hours":20},{"year":2021,"month":"May","date":13,"hours":22},{"year":2021,"month":"May","date":14,"hours":0},{"year":2021,"month":"May","date":14,"hours":2},{"year":2021,"month":"May","date":14,"hours":4},{"year":2021,"month":"May","date":14,"hours":6}]}},
            "y": {"field": "v", "type": "quantitative", "scale": {"domain": [-20, 25], "nice": false, "zero": false}, "axis": {"orient": "left", "title": "Bz (nt)", "titleColor": "#ff0000", "titleFontSize": 12, "values": [-20, -15, -10, -5, 0, 5, 10, 15, 20, 25], "titleY": 36}}
          }
        },
        {
          "data": {"name": "bz"},
          "mark": {"type": "line", "color": "#ff0000", "strokeWidth": 1, "opacity": 0},
          "encoding": {
            "x": {"field": "t", "type": "temporal", "axis": null},
            "y": {"field": "v", "type": "quantitative", "axis": {"orient": "right", "title": null, "labels": false, "grid": false, "minExtent": 0, "maxExtent": 4, "values": [-20, -15, -10, -5, 0, 5, 10, 15, 20, 25]}}
          }
        }
      ],
      "resolve": {"axis": {"x": "independent", "y": "independent"}}
    },
    {
      "width": 701, "height": 104,
      "layer": [
        {
          "data": {"name": "midnight"},
          "mark": {"type": "rule", "color": "#666666", "strokeDash": [1.5, 3], "strokeWidth": 0.9},
          "encoding": {"x": {"field": "t", "type": "temporal", "scale": {"domain": [{"year": 2021, "month": "May", "date": 11, "hours": 6, "minutes": 55}, {"year": 2021, "month": "May", "date": 14, "hours": 6, "minutes": 50}]}, "axis": null}}
        },
        {
          "data": {"name": "phi"},
          "mark": {"type": "circle", "color": "#0000ff", "size": 9, "opacity": 1},
          "encoding": {
            "x": {"field": "t", "type": "temporal", "axis": {"title": null, "labels": false, "grid": false, "values": [{"year":2021,"month":"May","date":11,"hours":8},{"year":2021,"month":"May","date":11,"hours":10},{"year":2021,"month":"May","date":11,"hours":12},{"year":2021,"month":"May","date":11,"hours":14},{"year":2021,"month":"May","date":11,"hours":16},{"year":2021,"month":"May","date":11,"hours":18},{"year":2021,"month":"May","date":11,"hours":20},{"year":2021,"month":"May","date":11,"hours":22},{"year":2021,"month":"May","date":12,"hours":0},{"year":2021,"month":"May","date":12,"hours":2},{"year":2021,"month":"May","date":12,"hours":4},{"year":2021,"month":"May","date":12,"hours":6},{"year":2021,"month":"May","date":12,"hours":8},{"year":2021,"month":"May","date":12,"hours":10},{"year":2021,"month":"May","date":12,"hours":12},{"year":2021,"month":"May","date":12,"hours":14},{"year":2021,"month":"May","date":12,"hours":16},{"year":2021,"month":"May","date":12,"hours":18},{"year":2021,"month":"May","date":12,"hours":20},{"year":2021,"month":"May","date":12,"hours":22},{"year":2021,"month":"May","date":13,"hours":0},{"year":2021,"month":"May","date":13,"hours":2},{"year":2021,"month":"May","date":13,"hours":4},{"year":2021,"month":"May","date":13,"hours":6},{"year":2021,"month":"May","date":13,"hours":8},{"year":2021,"month":"May","date":13,"hours":10},{"year":2021,"month":"May","date":13,"hours":12},{"year":2021,"month":"May","date":13,"hours":14},{"year":2021,"month":"May","date":13,"hours":16},{"year":2021,"month":"May","date":13,"hours":18},{"year":2021,"month":"May","date":13,"hours":20},{"year":2021,"month":"May","date":13,"hours":22},{"year":2021,"month":"May","date":14,"hours":0},{"year":2021,"month":"May","date":14,"hours":2},{"year":2021,"month":"May","date":14,"hours":4},{"year":2021,"month":"May","date":14,"hours":6}]}},
            "y": {"field": "v", "type": "quantitative", "scale": {"domain": [0, 400], "nice": false}, "axis": {"title": "Phi (deg)", "titleColor": "#0000ff", "values": [0, 50, 100, 150, 200, 250, 300, 350, 400]}}
          }
        },
        {
          "data": {"name": "phi"},
          "mark": {"type": "circle", "color": "#0000ff", "size": 9, "opacity": 0},
          "encoding": {
            "x": {"field": "t", "type": "temporal", "axis": {"orient": "top", "title": null, "labels": false, "grid": false, "values": [{"year":2021,"month":"May","date":11,"hours":8},{"year":2021,"month":"May","date":11,"hours":10},{"year":2021,"month":"May","date":11,"hours":12},{"year":2021,"month":"May","date":11,"hours":14},{"year":2021,"month":"May","date":11,"hours":16},{"year":2021,"month":"May","date":11,"hours":18},{"year":2021,"month":"May","date":11,"hours":20},{"year":2021,"month":"May","date":11,"hours":22},{"year":2021,"month":"May","date":12,"hours":0},{"year":2021,"month":"May","date":12,"hours":2},{"year":2021,"month":"May","date":12,"hours":4},{"year":2021,"month":"May","date":12,"hours":6},{"year":2021,"month":"May","date":12,"hours":8},{"year":2021,"month":"May","date":12,"hours":10},{"year":2021,"month":"May","date":12,"hours":12},{"year":2021,"month":"May","date":12,"hours":14},{"year":2021,"month":"May","date":12,"hours":16},{"year":2021,"month":"May","date":12,"hours":18},{"year":2021,"month":"May","date":12,"hours":20},{"year":2021,"month":"May","date":12,"hours":22},{"year":2021,"month":"May","date":13,"hours":0},{"year":2021,"month":"May","date":13,"hours":2},{"year":2021,"month":"May","date":13,"hours":4},{"year":2021,"month":"May","date":13,"hours":6},{"year":2021,"month":"May","date":13,"hours":8},{"year":2021,"month":"May","date":13,"hours":10},{"year":2021,"month":"May","date":13,"hours":12},{"year":2021,"month":"May","date":13,"hours":14},{"year":2021,"month":"May","date":13,"hours":16},{"year":2021,"month":"May","date":13,"hours":18},{"year":2021,"month":"May","date":13,"hours":20},{"year":2021,"month":"May","date":13,"hours":22},{"year":2021,"month":"May","date":14,"hours":0},{"year":2021,"month":"May","date":14,"hours":2},{"year":2021,"month":"May","date":14,"hours":4},{"year":2021,"month":"May","date":14,"hours":6}]}},
            "y": {"field": "v", "type": "quantitative", "axis": {"orient": "right", "title": null, "labels": false, "grid": false, "minExtent": 0, "maxExtent": 4, "values": [0, 50, 100, 150, 200, 250, 300, 350, 400]}}
          }
        }
      ],
      "resolve": {"axis": {"x": "independent", "y": "independent"}}
    },
    {
      "width": 701, "height": 104,
      "layer": [
        {
          "data": {"name": "midnight"},
          "mark": {"type": "rule", "color": "#666666", "strokeDash": [1.5, 3], "strokeWidth": 0.9},
          "encoding": {"x": {"field": "t", "type": "temporal", "scale": {"domain": [{"year": 2021, "month": "May", "date": 11, "hours": 6, "minutes": 55}, {"year": 2021, "month": "May", "date": 14, "hours": 6, "minutes": 50}]}, "axis": null}}
        },
        {
          "data": {"name": "dens"},
          "mark": {"type": "line", "color": "#ffa500", "strokeWidth": 1.3},
          "encoding": {
            "x": {"field": "t", "type": "temporal", "axis": {"title": null, "labels": false, "grid": false, "values": [{"year":2021,"month":"May","date":11,"hours":8},{"year":2021,"month":"May","date":11,"hours":10},{"year":2021,"month":"May","date":11,"hours":12},{"year":2021,"month":"May","date":11,"hours":14},{"year":2021,"month":"May","date":11,"hours":16},{"year":2021,"month":"May","date":11,"hours":18},{"year":2021,"month":"May","date":11,"hours":20},{"year":2021,"month":"May","date":11,"hours":22},{"year":2021,"month":"May","date":12,"hours":0},{"year":2021,"month":"May","date":12,"hours":2},{"year":2021,"month":"May","date":12,"hours":4},{"year":2021,"month":"May","date":12,"hours":6},{"year":2021,"month":"May","date":12,"hours":8},{"year":2021,"month":"May","date":12,"hours":10},{"year":2021,"month":"May","date":12,"hours":12},{"year":2021,"month":"May","date":12,"hours":14},{"year":2021,"month":"May","date":12,"hours":16},{"year":2021,"month":"May","date":12,"hours":18},{"year":2021,"month":"May","date":12,"hours":20},{"year":2021,"month":"May","date":12,"hours":22},{"year":2021,"month":"May","date":13,"hours":0},{"year":2021,"month":"May","date":13,"hours":2},{"year":2021,"month":"May","date":13,"hours":4},{"year":2021,"month":"May","date":13,"hours":6},{"year":2021,"month":"May","date":13,"hours":8},{"year":2021,"month":"May","date":13,"hours":10},{"year":2021,"month":"May","date":13,"hours":12},{"year":2021,"month":"May","date":13,"hours":14},{"year":2021,"month":"May","date":13,"hours":16},{"year":2021,"month":"May","date":13,"hours":18},{"year":2021,"month":"May","date":13,"hours":20},{"year":2021,"month":"May","date":13,"hours":22},{"year":2021,"month":"May","date":14,"hours":0},{"year":2021,"month":"May","date":14,"hours":2},{"year":2021,"month":"May","date":14,"hours":4},{"year":2021,"month":"May","date":14,"hours":6}]}},
            "y": {"field": "v", "type": "quantitative", "scale": {"type": "log", "domain": [1, 100], "nice": false}, "axis": {"title": "Density (¢ cmᴺ )", "titleColor": "#ffa500", "values": [1, 10, 100], "format": "d"}}
          }
        },
        {
          "data": {"name": "dens"},
          "mark": {"type": "line", "color": "#ffa500", "strokeWidth": 1, "opacity": 0},
          "encoding": {
            "x": {"field": "t", "type": "temporal", "axis": {"orient": "top", "title": null, "labels": false, "grid": false, "values": [{"year":2021,"month":"May","date":11,"hours":8},{"year":2021,"month":"May","date":11,"hours":10},{"year":2021,"month":"May","date":11,"hours":12},{"year":2021,"month":"May","date":11,"hours":14},{"year":2021,"month":"May","date":11,"hours":16},{"year":2021,"month":"May","date":11,"hours":18},{"year":2021,"month":"May","date":11,"hours":20},{"year":2021,"month":"May","date":11,"hours":22},{"year":2021,"month":"May","date":12,"hours":0},{"year":2021,"month":"May","date":12,"hours":2},{"year":2021,"month":"May","date":12,"hours":4},{"year":2021,"month":"May","date":12,"hours":6},{"year":2021,"month":"May","date":12,"hours":8},{"year":2021,"month":"May","date":12,"hours":10},{"year":2021,"month":"May","date":12,"hours":12},{"year":2021,"month":"May","date":12,"hours":14},{"year":2021,"month":"May","date":12,"hours":16},{"year":2021,"month":"May","date":12,"hours":18},{"year":2021,"month":"May","date":12,"hours":20},{"year":2021,"month":"May","date":12,"hours":22},{"year":2021,"month":"May","date":13,"hours":0},{"year":2021,"month":"May","date":13,"hours":2},{"year":2021,"month":"May","date":13,"hours":4},{"year":2021,"month":"May","date":13,"hours":6},{"year":2021,"month":"May","date":13,"hours":8},{"year":2021,"month":"May","date":13,"hours":10},{"year":2021,"month":"May","date":13,"hours":12},{"year":2021,"month":"May","date":13,"hours":14},{"year":2021,"month":"May","date":13,"hours":16},{"year":2021,"month":"May","date":13,"hours":18},{"year":2021,"month":"May","date":13,"hours":20},{"year":2021,"month":"May","date":13,"hours":22},{"year":2021,"month":"May","date":14,"hours":0},{"year":2021,"month":"May","date":14,"hours":2},{"year":2021,"month":"May","date":14,"hours":4},{"year":2021,"month":"May","date":14,"hours":6}]}},
            "y": {"field": "v", "type": "quantitative", "axis": {"orient": "right", "title": null, "labels": false, "grid": false, "minExtent": 0, "maxExtent": 4, "values": [2, 3, 4, 5, 6, 7, 8, 9, 10, 20, 30, 40, 50, 60, 70, 80, 90]}}
          }
        }
      ],
      "resolve": {"axis": {"x": "independent", "y": "independent"}}
    },
    {
      "width": 701, "height": 104,
      "layer": [
        {
          "data": {"name": "midnight"},
          "mark": {"type": "rule", "color": "#666666", "strokeDash": [1.5, 3], "strokeWidth": 0.9},
          "encoding": {"x": {"field": "t", "type": "temporal", "scale": {"domain": [{"year": 2021, "month": "May", "date": 11, "hours": 6, "minutes": 55}, {"year": 2021, "month": "May", "date": 14, "hours": 6, "minutes": 50}]}, "axis": null}}
        },
        {
          "data": {"name": "speed"},
          "mark": {"type": "line", "color": "#800080", "strokeWidth": 1.3},
          "encoding": {
            "x": {"field": "t", "type": "temporal", "axis": {"title": null, "labels": false, "grid": false, "values": [{"year":2021,"month":"May","date":11,"hours":8},{"year":2021,"month":"May","date":11,"hours":10},{"year":2021,"month":"May","date":11,"hours":12},{"year":2021,"month":"May","date":11,"hours":14},{"year":2021,"month":"May","date":11,"hours":16},{"year":2021,"month":"May","date":11,"hours":18},{"year":2021,"month":"May","date":11,"hours":20},{"year":2021,"month":"May","date":11,"hours":22},{"year":2021,"month":"May","date":12,"hours":0},{"year":2021,"month":"May","date":12,"hours":2},{"year":2021,"month":"May","date":12,"hours":4},{"year":2021,"month":"May","date":12,"hours":6},{"year":2021,"month":"May","date":12,"hours":8},{"year":2021,"month":"May","date":12,"hours":10},{"year":2021,"month":"May","date":12,"hours":12},{"year":2021,"month":"May","date":12,"hours":14},{"year":2021,"month":"May","date":12,"hours":16},{"year":2021,"month":"May","date":12,"hours":18},{"year":2021,"month":"May","date":12,"hours":20},{"year":2021,"month":"May","date":12,"hours":22},{"year":2021,"month":"May","date":13,"hours":0},{"year":2021,"month":"May","date":13,"hours":2},{"year":2021,"month":"May","date":13,"hours":4},{"year":2021,"month":"May","date":13,"hours":6},{"year":2021,"month":"May","date":13,"hours":8},{"year":2021,"month":"May","date":13,"hours":10},{"year":2021,"month":"May","date":13,"hours":12},{"year":2021,"month":"May","date":13,"hours":14},{"year":2021,"month":"May","date":13,"hours":16},{"year":2021,"month":"May","date":13,"hours":18},{"year":2021,"month":"May","date":13,"hours":20},{"year":2021,"month":"May","date":13,"hours":22},{"year":2021,"month":"May","date":14,"hours":0},{"year":2021,"month":"May","date":14,"hours":2},{"year":2021,"month":"May","date":14,"hours":4},{"year":2021,"month":"May","date":14,"hours":6}]}},
            "y": {"field": "v", "type": "quantitative", "scale": {"domain": [300, 550], "nice": false, "zero": false}, "axis": {"title": "Speed (km sec)", "titleColor": "#800080", "values": [300, 350, 400, 450, 500, 550]}}
          }
        },
        {
          "data": {"name": "speed"},
          "mark": {"type": "line", "color": "#800080", "strokeWidth": 1, "opacity": 0},
          "encoding": {
            "x": {"field": "t", "type": "temporal", "axis": {"orient": "top", "title": null, "labels": false, "grid": false, "values": [{"year":2021,"month":"May","date":11,"hours":8},{"year":2021,"month":"May","date":11,"hours":10},{"year":2021,"month":"May","date":11,"hours":12},{"year":2021,"month":"May","date":11,"hours":14},{"year":2021,"month":"May","date":11,"hours":16},{"year":2021,"month":"May","date":11,"hours":18},{"year":2021,"month":"May","date":11,"hours":20},{"year":2021,"month":"May","date":11,"hours":22},{"year":2021,"month":"May","date":12,"hours":0},{"year":2021,"month":"May","date":12,"hours":2},{"year":2021,"month":"May","date":12,"hours":4},{"year":2021,"month":"May","date":12,"hours":6},{"year":2021,"month":"May","date":12,"hours":8},{"year":2021,"month":"May","date":12,"hours":10},{"year":2021,"month":"May","date":12,"hours":12},{"year":2021,"month":"May","date":12,"hours":14},{"year":2021,"month":"May","date":12,"hours":16},{"year":2021,"month":"May","date":12,"hours":18},{"year":2021,"month":"May","date":12,"hours":20},{"year":2021,"month":"May","date":12,"hours":22},{"year":2021,"month":"May","date":13,"hours":0},{"year":2021,"month":"May","date":13,"hours":2},{"year":2021,"month":"May","date":13,"hours":4},{"year":2021,"month":"May","date":13,"hours":6},{"year":2021,"month":"May","date":13,"hours":8},{"year":2021,"month":"May","date":13,"hours":10},{"year":2021,"month":"May","date":13,"hours":12},{"year":2021,"month":"May","date":13,"hours":14},{"year":2021,"month":"May","date":13,"hours":16},{"year":2021,"month":"May","date":13,"hours":18},{"year":2021,"month":"May","date":13,"hours":20},{"year":2021,"month":"May","date":13,"hours":22},{"year":2021,"month":"May","date":14,"hours":0},{"year":2021,"month":"May","date":14,"hours":2},{"year":2021,"month":"May","date":14,"hours":4},{"year":2021,"month":"May","date":14,"hours":6}]}},
            "y": {"field": "v", "type": "quantitative", "axis": {"orient": "right", "title": null, "labels": false, "grid": false, "minExtent": 0, "maxExtent": 4, "values": [300, 350, 400, 450, 500, 550]}}
          }
        }
      ],
      "resolve": {"axis": {"x": "independent", "y": "independent"}}
    },
    {
      "width": 701, "height": 104,
      "layer": [
        {
          "data": {"name": "midnight"},
          "mark": {"type": "rule", "color": "#666666", "strokeDash": [1.5, 3], "strokeWidth": 0.9},
          "encoding": {"x": {"field": "t", "type": "temporal", "scale": {"domain": [{"year": 2021, "month": "May", "date": 11, "hours": 6, "minutes": 55}, {"year": 2021, "month": "May", "date": 14, "hours": 6, "minutes": 50}]}, "axis": null}}
        },
        {
          "data": {"name": "temp"},
          "mark": {"type": "line", "color": "#008000", "strokeWidth": 1.3},
          "encoding": {
            "x": {"field": "t", "type": "temporal", "axis": {"title": "Solar wind data from swpc.noaa.gov. Plot by \"9 RESE' LLC\" for spaceweathernews.com", "titleFontSize": 8, "titleColor": "#111111", "titleAlign": "right", "titleBaseline": "alphabetic", "titleX": 705, "titleY": 35, "labelFontSize": 12.5, "labelPadding": 4, "labelOverlap": false, "labelBound": false, "labelFlush": false, "grid": false, "labelExpr": "hours(datum.value) == 0 ? timeFormat(datum.value, '%Y-%m-%d %H:%M') : ''", "values": [{"year":2021,"month":"May","date":11,"hours":8},{"year":2021,"month":"May","date":11,"hours":10},{"year":2021,"month":"May","date":11,"hours":12},{"year":2021,"month":"May","date":11,"hours":14},{"year":2021,"month":"May","date":11,"hours":16},{"year":2021,"month":"May","date":11,"hours":18},{"year":2021,"month":"May","date":11,"hours":20},{"year":2021,"month":"May","date":11,"hours":22},{"year":2021,"month":"May","date":12,"hours":0},{"year":2021,"month":"May","date":12,"hours":2},{"year":2021,"month":"May","date":12,"hours":4},{"year":2021,"month":"May","date":12,"hours":6},{"year":2021,"month":"May","date":12,"hours":8},{"year":2021,"month":"May","date":12,"hours":10},{"year":2021,"month":"May","date":12,"hours":12},{"year":2021,"month":"May","date":12,"hours":14},{"year":2021,"month":"May","date":12,"hours":16},{"year":2021,"month":"May","date":12,"hours":18},{"year":2021,"month":"May","date":12,"hours":20},{"year":2021,"month":"May","date":12,"hours":22},{"year":2021,"month":"May","date":13,"hours":0},{"year":2021,"month":"May","date":13,"hours":2},{"year":2021,"month":"May","date":13,"hours":4},{"year":2021,"month":"May","date":13,"hours":6},{"year":2021,"month":"May","date":13,"hours":8},{"year":2021,"month":"May","date":13,"hours":10},{"year":2021,"month":"May","date":13,"hours":12},{"year":2021,"month":"May","date":13,"hours":14},{"year":2021,"month":"May","date":13,"hours":16},{"year":2021,"month":"May","date":13,"hours":18},{"year":2021,"month":"May","date":13,"hours":20},{"year":2021,"month":"May","date":13,"hours":22},{"year":2021,"month":"May","date":14,"hours":0},{"year":2021,"month":"May","date":14,"hours":2},{"year":2021,"month":"May","date":14,"hours":4},{"year":2021,"month":"May","date":14,"hours":6}]}},
            "y": {"field": "v", "type": "quantitative", "scale": {"type": "log", "domain": [1000, 1000000], "nice": false}, "axis": {"title": "Temp (ᵉK)", "titleColor": "#008000", "values": [1000, 10000, 100000, 1000000], "labelExpr": "datum.value == 1000 ? '10³' : datum.value == 10000 ? '10⁴' : datum.value == 100000 ? '10⁵' : '10⁶'"}}
          }
        },
        {
          "data": {"name": "temp"},
          "mark": {"type": "line", "color": "#008000", "strokeWidth": 1, "opacity": 0},
          "encoding": {
            "x": {"field": "t", "type": "temporal", "axis": {"orient": "top", "title": null, "labels": false, "grid": false, "values": [{"year":2021,"month":"May","date":11,"hours":8},{"year":2021,"month":"May","date":11,"hours":10},{"year":2021,"month":"May","date":11,"hours":12},{"year":2021,"month":"May","date":11,"hours":14},{"year":2021,"month":"May","date":11,"hours":16},{"year":2021,"month":"May","date":11,"hours":18},{"year":2021,"month":"May","date":11,"hours":20},{"year":2021,"month":"May","date":11,"hours":22},{"year":2021,"month":"May","date":12,"hours":0},{"year":2021,"month":"May","date":12,"hours":2},{"year":2021,"month":"May","date":12,"hours":4},{"year":2021,"month":"May","date":12,"hours":6},{"year":2021,"month":"May","date":12,"hours":8},{"year":2021,"month":"May","date":12,"hours":10},{"year":2021,"month":"May","date":12,"hours":12},{"year":2021,"month":"May","date":12,"hours":14},{"year":2021,"month":"May","date":12,"hours":16},{"year":2021,"month":"May","date":12,"hours":18},{"year":2021,"month":"May","date":12,"hours":20},{"year":2021,"month":"May","date":12,"hours":22},{"year":2021,"month":"May","date":13,"hours":0},{"year":2021,"month":"May","date":13,"hours":2},{"year":2021,"month":"May","date":13,"hours":4},{"year":2021,"month":"May","date":13,"hours":6},{"year":2021,"month":"May","date":13,"hours":8},{"year":2021,"month":"May","date":13,"hours":10},{"year":2021,"month":"May","date":13,"hours":12},{"year":2021,"month":"May","date":13,"hours":14},{"year":2021,"month":"May","date":13,"hours":16},{"year":2021,"month":"May","date":13,"hours":18},{"year":2021,"month":"May","date":13,"hours":20},{"year":2021,"month":"May","date":13,"hours":22},{"year":2021,"month":"May","date":14,"hours":0},{"year":2021,"month":"May","date":14,"hours":2},{"year":2021,"month":"May","date":14,"hours":4},{"year":2021,"month":"May","date":14,"hours":6}]}},
            "y": {"field": "v", "type": "quantitative", "axis": {"orient": "right", "title": null, "labels": false, "grid": false, "minExtent": 0, "maxExtent": 4, "values": [2000, 3000, 4000, 5000, 6000, 7000, 8000, 9000, 10000, 20000, 30000, 40000, 50000, 60000, 70000, 80000, 90000, 100000, 200000, 300000, 400000, 500000, 600000, 700000, 800000, 900000]}}
          }
        }
      ],
      "resolve": {"axis": {"x": "independent", "y": "independent"}}
    }
  ]
}
